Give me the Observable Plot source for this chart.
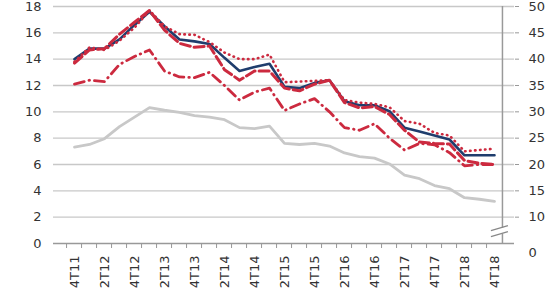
<!DOCTYPE html>
<html>
<head>
<meta charset="utf-8">
<script src="https://cdn.jsdelivr.net/npm/d3@7"></script>
<script src="https://cdn.jsdelivr.net/npm/@observablehq/plot@0.6"></script>
<style>
  html, body { margin: 0; padding: 0; background: #fff; }
  #chart svg { display: block; }
</style>
</head>
<body>
<div id="chart"></div>
<script>
const quarters = ["4T11","1T12","2T12","3T12","4T12","1T13","2T13","3T13","4T13","1T14","2T14","3T14","4T14","1T15","2T15","3T15","4T15","1T16","2T16","3T16","4T16","1T17","2T17","3T17","4T17","1T18","2T18","3T18","4T18"];

// left-axis series
const navySolid = [14.0,14.8,14.8,15.5,16.6,17.6,16.5,15.5,15.35,15.15,14.1,13.1,13.4,13.65,11.9,11.8,12.2,12.4,10.8,10.5,10.5,10.05,8.8,8.5,8.2,7.9,6.7,6.7,6.7];
const redDotted = [13.8,14.9,14.7,15.4,16.4,17.7,16.5,15.9,15.85,15.3,14.5,14.0,14.0,14.35,12.25,12.3,12.35,12.4,10.9,10.7,10.6,10.35,9.3,9.1,8.4,8.2,7.0,7.1,7.2];
const redDashed = [13.7,14.7,14.8,15.9,16.8,17.7,16.2,15.2,14.9,15.0,13.2,12.4,13.1,13.1,11.8,11.6,12.1,12.4,10.7,10.3,10.4,9.8,8.6,7.7,7.6,7.55,6.3,6.1,6.0];
const redDashDot = [12.1,12.4,12.3,13.6,14.2,14.7,13.1,12.65,12.6,13.0,12.0,10.9,11.5,11.8,10.1,10.6,11.0,10.0,8.8,8.6,9.1,8.0,7.1,7.6,7.5,6.9,5.9,6.0,6.0];
// right-axis series
const grayRight = [23.3,23.8,24.9,27.2,29,30.8,30.3,29.9,29.3,29,28.5,27,26.8,27.3,24,23.8,24,23.5,22.2,21.5,21.2,20.1,18,17.3,16,15.4,13.7,13.4,13];

const leftTicks = [0,2,4,6,8,10,12,14,16,18];
const rightTicks = [10,15,20,25,30,35,40,45,50];
const rightZeroLabel = ["0"];

// right axis maps onto left axis: right = 2.5*left + 5
const toLeft = r => (r - 5) / 2.5;

const W = 560, H = 293, mL = 53, mR = 46, mT = 6, mB = 50;
const step = (W - mL - mR) / quarters.length;

const rows = (vals) => quarters.map((q, i) => ({q, v: vals[i]}));

const red = "#cc2a3f", navy = "#1f3d6d", gray = "#c8c8c8";
const font = "DejaVu Sans, Verdana, sans-serif";

const plot = Plot.plot({
  width: W, height: H,
  marginLeft: mL, marginRight: mR, marginTop: mT, marginBottom: mB,
  style: {fontFamily: font, fontSize: "13px", color: "#333", background: "#fff"},
  x: {type: "point", domain: quarters, padding: 0.5},
  y: {domain: [0, 18]},
  marks: [
    Plot.gridY(leftTicks.filter(d => d > 0), {stroke: "#c8c8c8", strokeOpacity: 1, strokeWidth: 1.3}),
    Plot.axisY(leftTicks, {tickSize: 0, tickPadding: 12, fontSize: 13, fill: "#333", label: null}),
    Plot.axisY(rightTicks.map(toLeft), {anchor: "right", tickSize: 4, tickPadding: 10, stroke: "#999", fontSize: 13, fill: "#333",
      tickFormat: d => String(Math.round(d * 2.5 + 5)), label: null}),
    Plot.text(rightZeroLabel, {x: () => quarters[quarters.length - 1], y: () => 0, text: d => d, dx: step / 2 + 26, dy: 9, textAnchor: "start", fontSize: 13, fill: "#333"}),
    // bottom ticks at category boundaries
    Plot.axisX(quarters, {tickSize: 5, tickFormat: () => "", dx: -step / 2, stroke: "#999", label: null}),
    Plot.text(quarters.filter((d, i) => i % 2 === 0), {x: d => d, y: () => 0, text: d => d, rotate: -90, textAnchor: "end", lineAnchor: "middle", dy: 12, fontSize: 13, fill: "#333"}),
    Plot.ruleY([0], {stroke: "#999", strokeWidth: 1.3}),
    Plot.ruleX([quarters[quarters.length - 1]], {dx: step / 2, y1: 0, y2: 18, stroke: "#999", strokeWidth: 1.5}),
    Plot.line(rows(grayRight.map(toLeft)), {x: "q", y: "v", stroke: gray, strokeWidth: 2.8}),
    Plot.line(rows(redDashDot), {x: "q", y: "v", stroke: red, strokeWidth: 2.8, strokeDasharray: "10 5 0.5 5", strokeLinecap: "round"}),
    Plot.line(rows(navySolid), {x: "q", y: "v", stroke: navy, strokeWidth: 2.6}),
    Plot.line(rows(redDotted), {x: "q", y: "v", stroke: red, strokeWidth: 2.6, strokeDasharray: "0.5 4.5", strokeLinecap: "round"}),
    Plot.line(rows(redDashed), {x: "q", y: "v", stroke: red, strokeWidth: 3, strokeDasharray: "10 4"})
  ]
});

// axis break marks on right axis
{
  const xs = plot.scale("x"), ys = plot.scale("y");
  const xr = xs.apply(quarters[quarters.length - 1]) + step / 2;
  const yb = ys.apply(toLeft(10)) + 14; // between 10 and the 0 label
  const svg = d3.select(plot);
  const g = svg.append("g");
  g.append("rect").attr("x", xr - 3).attr("y", yb - 3).attr("width", 6).attr("height", 6).attr("fill", "#fff");
  [-3, 3].forEach(o => {
    g.append("line")
      .attr("x1", xr - 11).attr("y1", yb + o + 3)
      .attr("x2", xr + 6).attr("y2", yb + o - 2)
      .attr("stroke", "#888").attr("stroke-width", 1.2);
  });
}

document.getElementById("chart").appendChild(plot);
</script>
</body>
</html>
